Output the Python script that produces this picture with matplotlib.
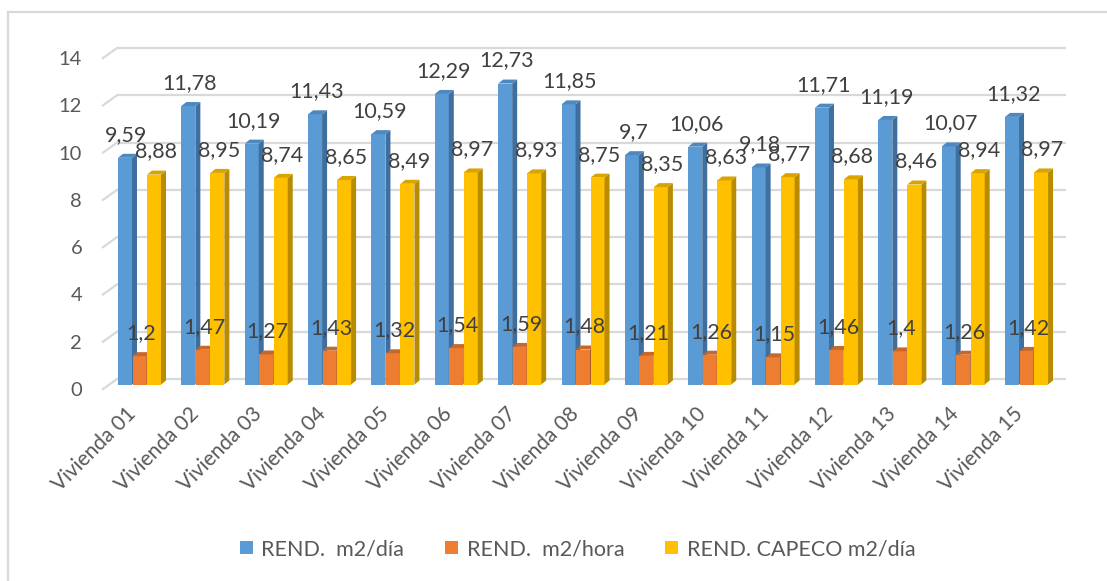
import matplotlib
matplotlib.use("Agg")
import matplotlib.pyplot as plt
from matplotlib.patches import Polygon, Patch
from matplotlib.lines import Line2D

plt.rcParams['font.family'] = ['Lato', 'DejaVu Sans']

categories = ["Vivienda 01", "Vivienda 02", "Vivienda 03", "Vivienda 04", "Vivienda 05",
              "Vivienda 06", "Vivienda 07", "Vivienda 08", "Vivienda 09", "Vivienda 10",
              "Vivienda 11", "Vivienda 12", "Vivienda 13", "Vivienda 14", "Vivienda 15"]
rend_dia = [9.59, 11.78, 10.19, 11.43, 10.59, 12.29, 12.73, 11.85, 9.7, 10.06,
            9.18, 11.71, 11.19, 10.07, 11.32]
rend_hora = [1.2, 1.47, 1.27, 1.43, 1.32, 1.54, 1.59, 1.48, 1.21, 1.26,
             1.15, 1.46, 1.4, 1.26, 1.42]
rend_capeco = [8.88, 8.95, 8.74, 8.65, 8.49, 8.97, 8.93, 8.75, 8.35, 8.63,
               8.77, 8.68, 8.46, 8.94, 8.97]
series_names = ["REND.  m2/día", "REND.  m2/hora", "REND. CAPECO m2/día"]
y_ticks = [0, 2, 4, 6, 8, 10, 12, 14]

# front / side / top shades for each series
faces = [("#5B9BD5", "#3F6F9E", "#4F88BF"),
         ("#ED7D31", "#A9581F", "#C8672A"),
         ("#FFC000", "#B98B00", "#D9A400")]

W, H = 1107, 581
fig = plt.figure(figsize=(W / 100, H / 100), dpi=100)

# plot area in pixels
px_left, px_right = 103, 1066
px_top, px_bottom = 30, 395
ax = fig.add_axes([px_left / W, 1 - px_bottom / H,
                   (px_right - px_left) / W, (px_bottom - px_top) / H])

ppu_y = 23.64          # pixels per value unit
ppu_x = 63.36          # pixels per category
zero_px = 384.5        # baseline of bar fronts
x0_px = 139.5          # centre of first group
ax.set_xlim((px_left - x0_px) / ppu_x, (px_right - x0_px) / ppu_x)
ax.set_ylim((zero_px - px_bottom) / ppu_y, (zero_px - px_top) / ppu_y)
for s in ax.spines.values():
    s.set_visible(False)

# 3D wall offsets (data units)
back_dy = 5.5 / ppu_y
front_dy = -4.5 / ppu_y
back_x0 = (117 - x0_px) / ppu_x
xmin, xmax = ax.get_xlim()
grid_c = "#D9D9D9"
for v in y_ticks:
    ax.plot([back_x0, xmax], [v + back_dy] * 2, color=grid_c, lw=1.6,
            zorder=1, clip_on=False, solid_capstyle="butt")
    ax.plot([xmin, back_x0], [v + front_dy, v + back_dy], color=grid_c,
            lw=1.6, zorder=1, clip_on=False)

# bars with side and top faces
bw = 14 / ppu_x
step = 14.5 / ppu_x
dx = 5 / ppu_x
dy = 4 / ppu_y
xs = list(range(len(categories)))
for k, vals in enumerate([rend_dia, rend_hora, rend_capeco]):
    front, side, top = faces[k]
    pos = [x + (k - 1) * step for x in xs]
    z = 2 + k
    ax.bar(pos, vals, width=bw, color=front, zorder=z, linewidth=0)
    for p, v in zip(pos, vals):
        r = p + bw / 2
        l = p - bw / 2
        ax.add_patch(Polygon([(r, 0), (r + dx, dy), (r + dx, v + dy), (r, v)],
                             closed=True, facecolor=side, edgecolor="none", zorder=z))
        ax.add_patch(Polygon([(l, v), (r, v), (r + dx, v + dy), (l + dx, v + dy)],
                             closed=True, facecolor=top, edgecolor="none", zorder=z))
    for p, v in zip(pos, vals):
        ax.annotate(f"{v:g}".replace(".", ","), (p, v), xytext=(1.5, 23),
                    textcoords="offset pixels", ha="center", va="center",
                    fontsize=15.5, color="#404040", zorder=10)

# axis labels
ax.set_yticks([v + front_dy for v in y_ticks])
ax.set_yticklabels([str(v) for v in y_ticks], fontsize=14.5, color="#595959")
ax.tick_params(axis="y", length=0, pad=15)
ax.set_xticks(xs)
ax.set_xticklabels(categories, rotation=45, ha="right", fontsize=15, color="#595959")
ax.tick_params(axis="x", length=0, pad=6)

# legend
handles = [Patch(facecolor=f[0], edgecolor="none") for f in faces]
fig.legend(handles, series_names, loc="center", bbox_to_anchor=(577.5 / W, 1 - 549 / H),
           ncol=3, frameon=False, fontsize=15.5, labelcolor="#595959",
           handlelength=0.6, handleheight=0.6, handletextpad=0.4, columnspacing=1.9)

# chart frame
fig.add_artist(Line2D([8 / W, 8 / W], [0, 1 - 12 / H], color="#D9D9D9", lw=1.6))
fig.add_artist(Line2D([8 / W, 1], [1 - 12 / H, 1 - 12 / H], color="#D9D9D9", lw=1.6))

fig.savefig("out.png", dpi=100)
